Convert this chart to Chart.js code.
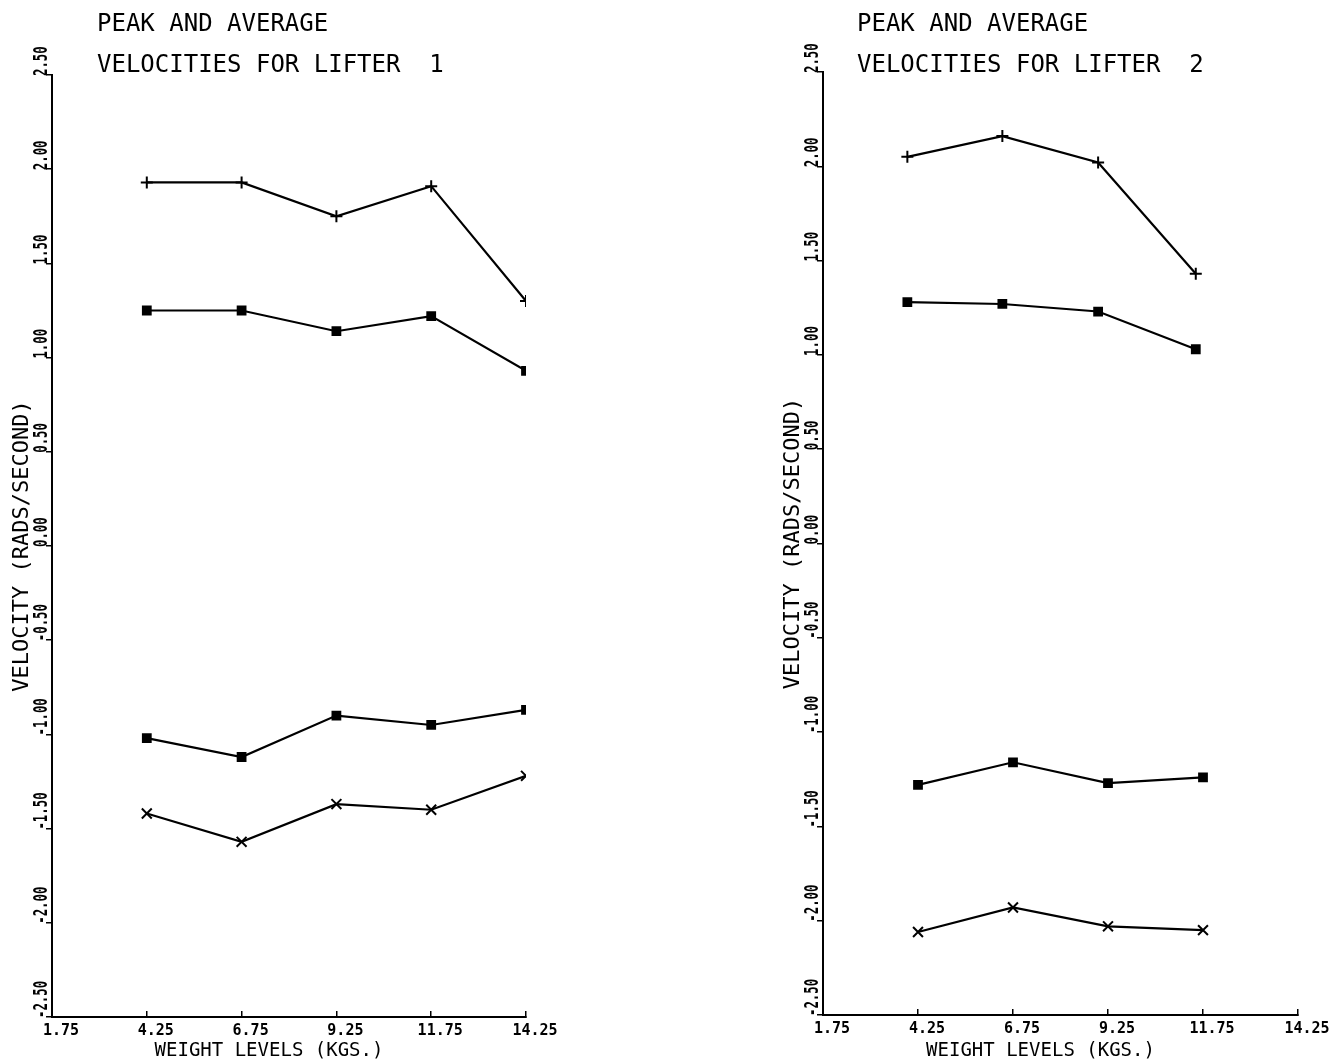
<!DOCTYPE html>
<html>
<head>
<meta charset="utf-8">
<title>Peak and average velocities</title>
<script src="https://cdn.jsdelivr.net/npm/chart.js@4/dist/chart.umd.min.js"></script>
<style>
  html, body { margin: 0; padding: 0; background: #fff; }
  body { width: 1339px; height: 1060px; position: relative; overflow: hidden; }
  .panel { position: absolute; top: 0; height: 1060px; }
  #lifter1 { left: 0; width: 640px; }
  #lifter2 { left: 700px; width: 639px; }
</style>
</head>
<body>
<div class="panel" id="lifter1"><canvas id="chart1"></canvas></div>
<div class="panel" id="lifter2"><canvas id="chart2"></canvas></div>
<script>
// Axis ticks
const weightTicks = [1.75, 4.25, 6.75, 9.25, 11.75, 14.25];
const velocityTicks = [-2.5, -2.0, -1.5, -1.0, -0.5, 0.0, 0.5, 1.0, 1.5, 2.0, 2.5];

// Weight levels (kgs)
const lifter1Weights = [4.25, 6.75, 9.25, 11.75, 14.25];
const lifter2Weights = [4.25, 6.75, 9.25, 11.75];
const lifter2UpperWeights = [3.97, 6.47, 8.99, 11.56];

// Velocities (rads/second) for lifter 1
const lifter1PeakPos = [1.93, 1.93, 1.75, 1.91, 1.30];
const lifter1AvgPos = [1.25, 1.25, 1.14, 1.22, 0.93];
const lifter1AvgNeg = [-1.02, -1.12, -0.90, -0.95, -0.87];
const lifter1PeakNeg = [-1.42, -1.57, -1.37, -1.40, -1.22];

// Velocities (rads/second) for lifter 2
const lifter2PeakPos = [2.05, 2.16, 2.02, 1.43];
const lifter2AvgPos = [1.28, 1.27, 1.23, 1.03];
const lifter2AvgNeg = [-1.28, -1.16, -1.27, -1.24];
const lifter2PeakNeg = [-2.06, -1.93, -2.03, -2.05];

const FONT = '"DejaVu Sans Mono", monospace';

// Marker size per point style
const markerRadius = { cross: 6, rect: 5.5, crossRot: 7 };

function series(xs, ys, style) {
    return {
        data: xs.map((x, i) => ({ x: x, y: ys[i] })),
        borderColor: '#000',
        backgroundColor: '#000',
        borderWidth: 2.2,
        tension: 0,
        pointStyle: style,
        pointRadius: markerRadius[style],
        pointBorderWidth: 2,
        pointBackgroundColor: '#000',
        pointBorderColor: '#000'
    };
}

// Draws the rotated y tick labels, the axis titles and the two title lines
const plotterText = {
    id: 'plotterText',
    afterDraw(chart, args, opts) {
        const ctx = chart.ctx;
        const area = chart.chartArea;
        const yScale = chart.scales.y;
        ctx.save();
        ctx.fillStyle = '#000';

        // y tick labels read upwards, starting at the tick
        ctx.font = 'bold 19px ' + FONT;
        ctx.textAlign = 'left';
        ctx.textBaseline = 'alphabetic';
        yScale.ticks.forEach(t => {
            const y = yScale.getPixelForValue(t.value);
            ctx.save();
            ctx.translate(area.left - 5, y + 1);
            ctx.rotate(-Math.PI / 2);
            ctx.scale(0.65, 1);
            ctx.fillText(t.value.toFixed(2), 0, 0);
            ctx.restore();
        });

        // y axis title
        ctx.save();
        ctx.font = '22px ' + FONT;
        ctx.textAlign = 'center';
        ctx.translate(area.left - 24, (area.top + area.bottom) / 2);
        ctx.rotate(-Math.PI / 2);
        ctx.fillText('VELOCITY (RADS/SECOND)', 0, 0);
        ctx.restore();

        // x axis title
        ctx.font = '19px ' + FONT;
        ctx.textAlign = 'center';
        ctx.fillText('WEIGHT LEVELS (KGS.)', (area.left + area.right) / 2 - 20, 1056);

        // chart title
        ctx.font = '24px ' + FONT;
        ctx.textAlign = 'left';
        opts.lines.forEach((line, i) => {
            ctx.fillText(line, opts.x, 31 + i * 41);
        });
        ctx.restore();
    }
};

function makeChart(canvasId, datasets, titleLines, titleX, padding, xHeight) {
    return new Chart(document.getElementById(canvasId), {
        type: 'line',
        data: { datasets: datasets },
        options: {
            responsive: true,
            maintainAspectRatio: false,
            animation: false,
            layout: { padding: padding },
            plugins: {
                legend: { display: false },
                tooltip: { enabled: false },
                plotterText: { lines: titleLines, x: titleX }
            },
            scales: {
                x: {
                    type: 'linear',
                    min: 1.75,
                    max: 14.25,
                    afterBuildTicks: scale => {
                        scale.ticks = weightTicks.map(v => ({ value: v }));
                    },
                    afterFit: scale => { scale.height = xHeight; },
                    ticks: {
                        color: '#000',
                        padding: 11,
                        labelOffset: 9,
                        maxRotation: 0,
                        autoSkip: false,
                        font: { family: FONT, size: 15, weight: 'bold' },
                        callback: v => Number(v).toFixed(2)
                    },
                    grid: {
                        drawOnChartArea: false,
                        color: '#000',
                        lineWidth: 1.5,
                        tickLength: -6
                    },
                    border: { color: '#000', width: 2 }
                },
                y: {
                    type: 'linear',
                    min: -2.5,
                    max: 2.5,
                    afterBuildTicks: scale => {
                        scale.ticks = velocityTicks.map(v => ({ value: v }));
                    },
                    afterFit: scale => { scale.width = 52; },
                    ticks: { display: false },
                    grid: {
                        drawOnChartArea: false,
                        color: '#000',
                        lineWidth: 1.5,
                        tickLength: 6
                    },
                    border: { color: '#000', width: 2 }
                }
            }
        },
        plugins: [plotterText]
    });
}

makeChart('chart1', [
    series(lifter1Weights, lifter1PeakPos, 'cross'),
    series(lifter1Weights, lifter1AvgPos, 'rect'),
    series(lifter1Weights, lifter1AvgNeg, 'rect'),
    series(lifter1Weights, lifter1PeakNeg, 'crossRot')
], ['PEAK AND AVERAGE', 'VELOCITIES FOR LIFTER  1'], 97,
   { top: 75, left: 0, right: 114, bottom: 0 }, 43);

makeChart('chart2', [
    series(lifter2UpperWeights, lifter2PeakPos, 'cross'),
    series(lifter2UpperWeights, lifter2AvgPos, 'rect'),
    series(lifter2Weights, lifter2AvgNeg, 'rect'),
    series(lifter2Weights, lifter2PeakNeg, 'crossRot')
], ['PEAK AND AVERAGE', 'VELOCITIES FOR LIFTER  2'], 157,
   { top: 72, left: 71, right: 41, bottom: 0 }, 45);
</script>
</body>
</html>
